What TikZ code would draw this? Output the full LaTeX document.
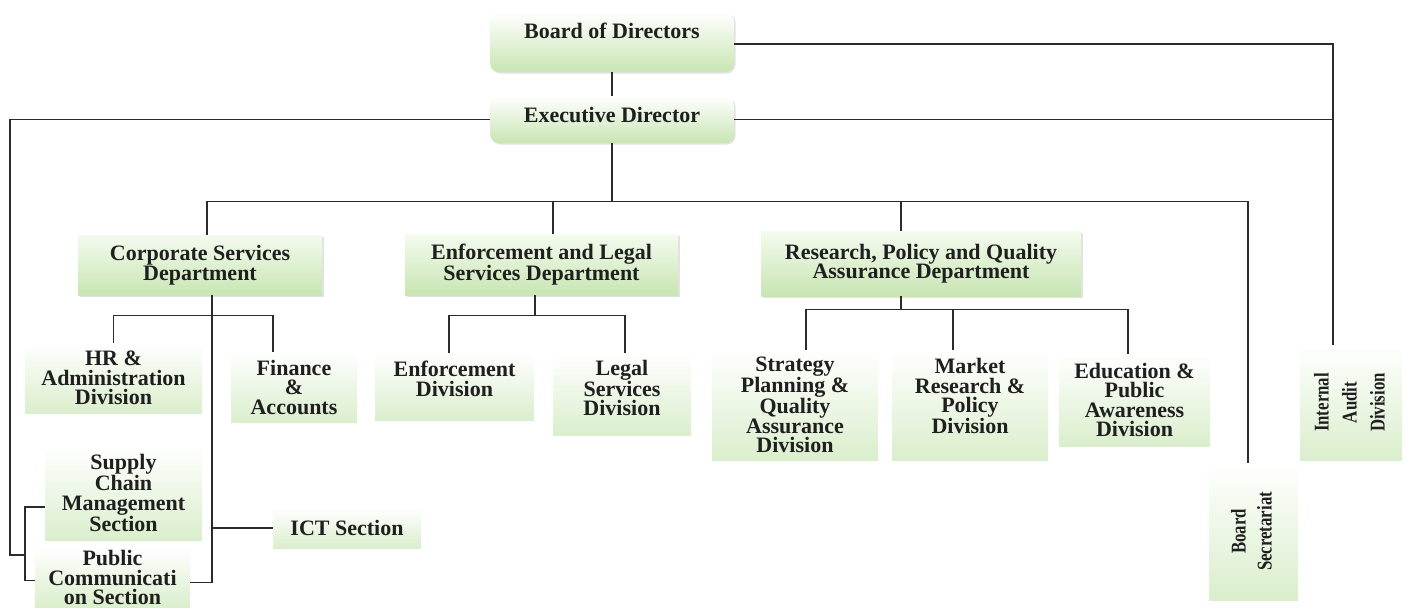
\documentclass[tikz,border=0pt]{standalone}
\usepackage{fontspec}
\setmainfont{Liberation Serif}
\usetikzlibrary{shadows,calc}
\definecolor{lnC}{HTML}{2B2B2B}
\definecolor{gTop}{HTML}{F4FBEF}
\definecolor{gBot}{HTML}{C8E5B2}
\definecolor{dBot}{HTML}{DAEECC}
\tikzset{
  base/.style={draw=none, inner sep=0pt, align=center,
    font=\fontsize{22}{19.5}\selectfont\bfseries, text=black!88},
  topbox/.style={base, rounded corners=9pt, top color=white, bottom color=gBot,
    drop shadow={shadow xshift=1.5pt, shadow yshift=-1.5pt, fill=black!22}},
  deptbox/.style={base, top color=gTop, bottom color=gBot,
    drop shadow={shadow xshift=1.5pt, shadow yshift=-1.5pt, fill=black!22}},
  divbox/.style={base, top color=white, bottom color=dBot},
  conn/.style={draw=lnC, line width=1.3pt},
}
\newcommand{\rottext}[2]{\rotatebox{90}{\scalebox{0.8}[1]{\fontsize{21}{#1}\selectfont\begin{tabular}{@{}c@{}}#2\end{tabular}}}}
\begin{document}
\begin{tikzpicture}[x=1pt,y=-1pt]
\useasboundingbox (0,0) rectangle (1411,608);
\fill[white] (0,0) rectangle (1411,608);

% top
\node[topbox, minimum width=244, text height=26, text depth=34] (bod) at (612,42) {Board of Directors};
\node[topbox, minimum width=244, text height=26, text depth=21] (ed) at (612,119.5) {Executive Director};

% departments
\node[deptbox, minimum width=244, minimum height=60] (csd) at (200,265) {Corporate Services\\Department};
\node[deptbox, minimum width=273, minimum height=61] (elsd) at (541.5,264.5) {Enforcement and Legal\\Services Department};
\node[deptbox, minimum width=320, minimum height=65] (rpq) at (921,263.5) {Research, Policy and Quality\\Assurance Department};

% divisions
\node[divbox, minimum width=177, minimum height=70] (hr) at (113.5,378) {HR \&\\Administration\\Division};
\node[divbox, minimum width=126, minimum height=70] (fin) at (294,387) {Finance\\\&\\Accounts};
\node[divbox, minimum width=159, minimum height=67] (enf) at (454.5,386.5) {Enforcement\\Division\\[-3.5pt]};
\node[divbox, minimum width=138, minimum height=82] (leg) at (622,394) {Legal\\Services\\Division\\[-7.5pt]};
\node[divbox, minimum width=166, minimum height=110] (str) at (795,405) {Strategy\\Planning \&\\Quality\\Assurance\\Division};
\node[divbox, minimum width=156, minimum height=110] (mkt) at (970,405) {Market\\Research \&\\Policy\\Division\\[-1.5pt]};
\node[divbox, minimum width=151, minimum height=92] (edu) at (1134.5,400) {Education \&\\Public\\Awareness\\Division};
\node[divbox, minimum width=157, minimum height=94] (scm) at (123.5,493) {Supply\\Chain\\Management\\Section};
\node[divbox, minimum width=155, minimum height=60] (pcs) at (112.5,577.5) {Public\\Communicati\\on Section};
\node[divbox, minimum width=148, minimum height=40] (ict) at (347,528) {ICT Section};
\node[divbox, minimum width=89, minimum height=137] (bsec) at (1253.5,531.5) {\rottext{26}{Board\\Secretariat}};
\node[divbox, minimum width=102, minimum height=115] (iad) at (1351,402.5) {\rottext{28}{Internal\\Audit\\Division}};

% helper coordinates
\coordinate (iadtop) at ([xshift=-18pt]iad.north);
\coordinate (bus) at (610,202);
\coordinate (cv) at ([xshift=12pt]csd.south);
\coordinate (jL) at (25,555);

% connectors
\draw[conn] (bod.south) -- (ed.north);
\draw[conn] ([yshift=-2pt]bod.east) -| (iadtop);
\draw[conn] (ed.east) -- (ed.east -| iadtop);
\draw[conn] (ed.south) -- (ed.south |- bus);
\draw[conn] ([xshift=7pt]csd.north) -- ++(0,-33) -| ([xshift=-5.5pt]bsec.north);
\draw[conn] ([xshift=11.5pt]elsd.north) -- ++(0,-32);
\draw[conn] ([xshift=-20pt]rpq.north) -- ++(0,-29);

% left loop
\draw[conn] (ed.west) -| (10,555) -- (jL);
\draw[conn] ([yshift=-14pt]scm.west) -| (jL) |- ([yshift=-3pt]pcs.west);

% corporate subtree
\draw[conn] (cv) |- ([yshift=-5pt]pcs.east);
\draw[conn] (ict.west) -- (ict.west -| cv);
\draw[conn] (hr.north) -- ++(0,-27) -| ([xshift=-21pt]fin.north);

% enforcement subtree
\draw[conn] ([xshift=-6.5pt]elsd.south) -- ++(0,21);
\draw[conn] ([xshift=-5.5pt]enf.north) -- ++(0,-37) -| ([xshift=3pt]leg.north);

% research subtree
\draw[conn] ([xshift=-20pt]rpq.south) -- ++(0,14);
\draw[conn] ([xshift=11pt]str.north) -- ++(0,-40) -| ([xshift=-6.5pt]edu.north);
\draw[conn] ([xshift=-17pt]mkt.north) -- ++(0,-40);
\end{tikzpicture}
\end{document}
